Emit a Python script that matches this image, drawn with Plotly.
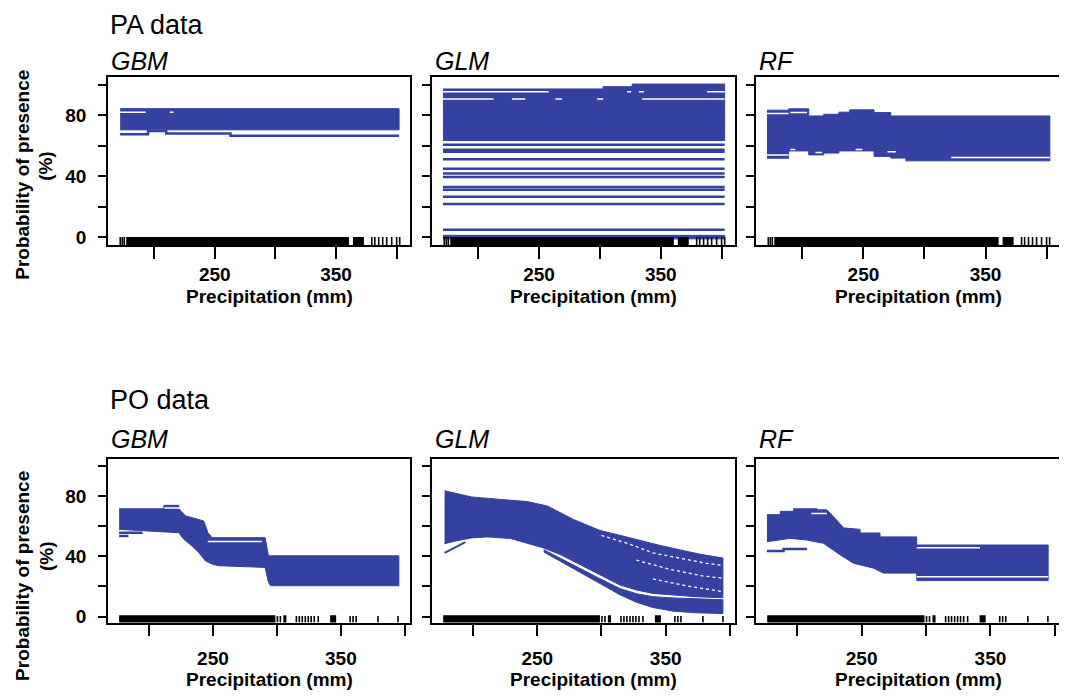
import plotly.graph_objects as go

BLUE = "#3541a0"
FONT = "Liberation Sans, Arial, sans-serif"

# axis ticks
x_tickvals = [200, 250, 300, 350, 400]
x_ticktext = ["", "250", "", "350", ""]
y_tickvals = [0, 20, 40, 60, 80, 100]
y_ticktext = ["0", "", "40", "", "80", ""]

row_titles = ["PA data", "PO data"]
model_names = ["GBM", "GLM", "RF"]

# ---------- PA data ----------
# GBM
pa_gbm_hi_x = [172, 402]
pa_gbm_hi_y = [84.3, 84.3]
pa_gbm_lo_x = [172, 402]
pa_gbm_lo_y = [70.4, 70.4]
pa_gbm_line_x = [172, 195, 195, 210, 210, 263, 263, 402]
pa_gbm_line_y = [67.6, 67.6, 69.6, 69.6, 68.0, 68.0, 66.5, 66.5]
pa_gbm_gap_x0 = [172, 213]
pa_gbm_gap_x1 = [193, 216]
pa_gbm_gap_y = [82.0, 82.0]

# GLM
pa_glm_hi_x = [171, 302.6, 302.6, 326.5, 326.5, 402.5]
pa_glm_hi_y = [97.2, 97.2, 98.7, 98.7, 100.4, 100.4]
pa_glm_lo_x = [171, 402.5]
pa_glm_lo_y = [63.4, 63.4]
pa_glm_levels = [60.6, 57.3, 56.0, 51.2, 45.0, 41.8, 39.6, 33.0, 31.2, 26.6, 21.8, 5.0]
pa_glm_base_hi = [1.3, 1.3]
pa_glm_base_lo = [-1.0, -1.0]
pa_glm_gap_x0 = [171, 322.4, 332, 388.2, 171, 227.7, 263.4, 297.7, 334.7]
pa_glm_gap_x1 = [257.9, 325.7, 336, 402.5, 212.6, 238.7, 268.9, 302.6, 402.5]
pa_glm_gap_y = [95.4, 95.4, 95.4, 95.4, 90.6, 90.6, 90.6, 90.6, 90.6]

# RF
pa_rf_hi_x = [171, 188.7, 188.7, 205.2, 205.2, 217.5, 217.5, 229.9, 229.9, 238.7,
              238.7, 258.7, 258.7, 272.4, 272.4, 402.7]
pa_rf_hi_y = [83.3, 83.3, 84.2, 84.2, 79.5, 79.5, 80.6, 80.6, 82.0, 82.0,
              83.5, 83.5, 81.7, 81.7, 79.5, 79.5]
pa_rf_lo_x = [171, 188.7, 188.7, 205.2, 205.2, 217.5, 217.5, 229.9, 229.9, 258.7,
              258.7, 272.4, 272.4, 284.8, 284.8, 402.7]
pa_rf_lo_y = [51.8, 51.8, 56.6, 56.6, 54.0, 54.0, 55.2, 55.2, 56.6, 56.6,
              53.0, 53.0, 51.9, 51.9, 50.1, 50.1]
pa_rf_gap_x0 = [171, 190.1, 171, 190.1, 210.7, 243.6, 269.7, 321.8]
pa_rf_gap_x1 = [188.7, 203.8, 188.7, 194.2, 216.2, 249.1, 276.5, 402.7]
pa_rf_gap_y = [81.2, 81.7, 54.0, 57.5, 55.6, 57.5, 56.0, 52.3]

# ---------- PO data ----------
# GBM
po_gbm_hi_x = [176.7, 211.7, 211.7, 223.3, 223.3, 228.5, 233.7, 242.8, 246.0, 249.3,
               290.8, 293.4, 395.3]
po_gbm_hi_y = [71.7, 71.7, 74.0, 74.0, 71.7, 67.0, 65.8, 63.6, 56.0, 52.5,
               52.5, 40.4, 40.4]
po_gbm_lo_x = [176.7, 223.3, 227.2, 233.7, 238.9, 244.1, 249.3, 254.5, 290.8, 293.4,
               295.0, 395.3]
po_gbm_lo_y = [58.0, 55.8, 51.4, 47.0, 42.6, 37.1, 34.9, 33.8, 32.7, 22.7,
               20.5, 20.5]
po_gbm_line_x = [176.7, 195, None, 176.7, 184]
po_gbm_line_y = [55.8, 55.8, None, 53.6, 53.6]
po_gbm_gap_x0 = [212, 246]
po_gbm_gap_x1 = [224, 288.2]
po_gbm_gap_y = [72.3, 50.0]

# GLM
po_glm_hi_x = [177.8, 188.2, 198.5, 219.1, 229.3, 242.2, 257.7, 268.0, 278.2, 288.6,
               298.8, 314.3, 329.7, 345.2, 360.6, 376.1, 394.6]
po_glm_hi_y = [83.7, 81.9, 79.6, 78.1, 77.4, 76.5, 73.6, 69.1, 64.6, 60.9,
               57.3, 54.1, 50.6, 47.4, 44.5, 41.6, 38.9]
po_glm_lo_x = [177.8, 185.5, 198.5, 211.4, 229.3, 244.7, 255.0, 268.0, 280.8, 293.7,
               304.0, 314.3, 327.2, 340.1, 355.6, 373.6, 394.6]
po_glm_lo_y = [48.5, 50.1, 52.3, 53.0, 51.9, 48.3, 45.6, 41.2, 35.6, 30.0,
               25.5, 21.0, 17.7, 15.4, 14.3, 13.2, 12.5]
po_glm_tail_x = [255.0, 268.0, 280.8, 293.7, 304.0, 314.3, 327.2, 340.1, 355.6, 373.6, 394.6]
po_glm_tail_hi = [44.5, 38.6, 33.0, 27.4, 23.0, 18.6, 15.2, 13.2, 12.4, 11.8, 11.2]
po_glm_tail_lo = [43.0, 37.0, 31.0, 24.5, 19.5, 14.5, 9.5, 6.0, 3.6, 2.5, 2.0]
po_glm_line_x = [177.8, 185.5, 194.0]
po_glm_line_y = [42.3, 45.6, 49.5]
po_glm_streak_x = [300, 321.6, 340.1, 360.6, 381.3, 394.6, None,
                   327.2, 353.0, 378.8, 394.6, None,
                   340.1, 365.9, 394.6]
po_glm_streak_y = [54.0, 48.3, 42.3, 39.0, 35.5, 34.0, None,
                   37.5, 31.5, 27.0, 25.5, None,
                   25.0, 20.5, 16.5]

# RF
po_rf_hi_x = [176.5, 186.8, 186.8, 197.1, 197.1, 215.3, 215.3, 223.0, 230.8, 235.9,
              248.8, 248.8, 264.3, 264.3, 292.8, 292.8, 394.8]
po_rf_hi_y = [67.8, 67.8, 70.0, 70.0, 71.7, 71.7, 71.0, 71.0, 64.0, 59.0,
              58.0, 55.6, 55.6, 53.0, 53.0, 47.6, 47.6]
po_rf_lo_x = [176.5, 194.6, 207.5, 220.4, 225.6, 233.4, 243.7, 259.2, 266.9, 279.8,
              292.8, 292.8, 394.8]
po_rf_lo_y = [49.8, 52.0, 50.9, 48.7, 45.4, 41.0, 35.5, 32.2, 28.9, 28.9,
              28.9, 23.9, 23.9]
po_rf_line_x = [176.5, 189.4, 189.4, 207.5]
po_rf_line_y = [43.6, 43.6, 45.0, 45.0]
po_rf_gap_x0 = [292.8, 292.8, 211.0]
po_rf_gap_x1 = [341.9, 394.8, 223.0]
po_rf_gap_y = [45.8, 26.5, 68.6]

# ---------- rugs (observed precipitation) ----------
rug_pa_block_start = [177.0, 364.0]
rug_pa_block_end = [360.7, 373.0]
rug_pa_ticks = [172.1, 173.8, 175.4, 379.5, 382.0, 385.2, 388.5, 391.8, 395.9, 400.0, 402.5]
rug_po_block_start = [176.7, 305.0, 341.6]
rug_po_block_end = [298.8, 307.4, 346.3]
rug_po_ticks = [300.4, 302.7, 315.2, 317.5, 319.8, 322.2, 324.5, 326.8, 329.2, 332.3,
                357.2, 359.5, 361.9, 379.0, 394.6]

# layout geometry, in pixels of the 1067x696 page (the page body adds an 8px margin)
W, H = 1067, 696
OFF = 8
col_px = [(108, 410), (432, 735), (756, 1060)]
row_px = [(78, 247), (462, 627)]
x_ranges = [[162, 411], [168, 404]]
y_ranges = [[-5.2, 104.7], [-4.0, 105.0]]
xlabel_standoff = [-1, 6]


def px(p):
    return (p - OFF) / W


def py(p):
    return 1 - (p - OFF) / H


def segs(x0, x1, y):
    xs, ys = [], []
    for a, b, c in zip(x0, x1, y):
        xs += [a, b, None]
        ys += [c, c, None]
    return xs, ys


fig = go.Figure()


def ax(i):
    s = "" if i == 0 else str(i + 1)
    return "x" + s, "y" + s


def add_band(i, hx, hy, lx, ly, color=BLUE):
    xa, ya = ax(i)
    fig.add_trace(go.Scatter(x=list(hx) + list(lx)[::-1], y=list(hy) + list(ly)[::-1],
                             mode="lines", fill="toself", fillcolor=color,
                             line=dict(color=color, width=1),
                             xaxis=xa, yaxis=ya, hoverinfo="skip"))


def add_line(i, x, y, color=BLUE, width=2.5, dash="solid"):
    xa, ya = ax(i)
    fig.add_trace(go.Scatter(x=x, y=y, mode="lines",
                             line=dict(color=color, width=width, dash=dash),
                             xaxis=xa, yaxis=ya, hoverinfo="skip", connectgaps=False))


def add_rug(i, bstart, bend, ticks, ybot):
    xs, ys = segs(bstart, bend, [(ybot + 0.3) / 2] * len(bstart))
    add_line(i, xs, ys, color="black", width=8)
    tx, ty = [], []
    for t in ticks:
        tx += [t, t, None]
        ty += [ybot, 0.3, None]
    add_line(i, tx, ty, color="black", width=1.6)


# PA GBM
add_band(0, pa_gbm_hi_x, pa_gbm_hi_y, pa_gbm_lo_x, pa_gbm_lo_y)
add_line(0, pa_gbm_line_x, pa_gbm_line_y)
add_line(0, *segs(pa_gbm_gap_x0, pa_gbm_gap_x1, pa_gbm_gap_y), color="white", width=1.5)

# PA GLM
add_band(1, pa_glm_hi_x, pa_glm_hi_y, pa_glm_lo_x, pa_glm_lo_y)
lx, ly = segs([pa_glm_lo_x[0]] * len(pa_glm_levels), [pa_glm_lo_x[-1]] * len(pa_glm_levels), pa_glm_levels)
add_line(1, lx, ly)
add_band(1, pa_glm_lo_x, pa_glm_base_hi, pa_glm_lo_x, pa_glm_base_lo)
add_line(1, *segs(pa_glm_gap_x0, pa_glm_gap_x1, pa_glm_gap_y), color="white", width=1.5)

# PA RF
add_band(2, pa_rf_hi_x, pa_rf_hi_y, pa_rf_lo_x, pa_rf_lo_y)
add_line(2, *segs(pa_rf_gap_x0, pa_rf_gap_x1, pa_rf_gap_y), color="white", width=1.5)

# PO GBM
add_band(3, po_gbm_hi_x, po_gbm_hi_y, po_gbm_lo_x, po_gbm_lo_y)
add_line(3, po_gbm_line_x, po_gbm_line_y)
add_line(3, *segs(po_gbm_gap_x0, po_gbm_gap_x1, po_gbm_gap_y), color="white", width=1.5)

# PO GLM
add_band(4, po_glm_hi_x, po_glm_hi_y, po_glm_lo_x, po_glm_lo_y)
add_band(4, po_glm_tail_x, po_glm_tail_hi, po_glm_tail_x, po_glm_tail_lo)
add_line(4, po_glm_line_x, po_glm_line_y, width=2)
add_line(4, po_glm_streak_x, po_glm_streak_y, color="white", width=1.3, dash="dot")

# PO RF
add_band(5, po_rf_hi_x, po_rf_hi_y, po_rf_lo_x, po_rf_lo_y)
add_line(5, po_rf_line_x, po_rf_line_y)
add_line(5, *segs(po_rf_gap_x0, po_rf_gap_x1, po_rf_gap_y), color="white", width=1.5)

# rugs
for i in range(3):
    add_rug(i, rug_pa_block_start, rug_pa_block_end, rug_pa_ticks, y_ranges[0][0])
    add_rug(i + 3, rug_po_block_start, rug_po_block_end, rug_po_ticks, y_ranges[1][0])

bold = dict(family=FONT, size=19, color="black", weight="bold")
layout = dict(width=W, height=H, autosize=False, showlegend=False,
              margin=dict(l=0, r=0, t=0, b=0),
              paper_bgcolor="white", plot_bgcolor="white")

for i in range(6):
    r, c = divmod(i, 3)
    s = "" if i == 0 else str(i + 1)
    x0, x1 = col_px[c]
    y0, y1 = row_px[r]
    layout["xaxis" + s] = dict(
        domain=[px(x0), px(x1)], range=x_ranges[r], anchor="y" + s,
        showline=True, mirror=True, linecolor="black", linewidth=1.5,
        ticks="outside", ticklen=12, tickwidth=1.5, tickcolor="black",
        tickvals=x_tickvals, ticktext=x_ticktext, tickfont=bold,
        ticklabelstandoff=xlabel_standoff[r], showgrid=False, zeroline=False, fixedrange=True)
    layout["yaxis" + s] = dict(
        domain=[py(y1), py(y0)], range=y_ranges[r], anchor="x" + s,
        showline=True, mirror=True, linecolor="black", linewidth=1.5,
        ticks="outside", ticklen=8, tickwidth=1.5, tickcolor="black",
        tickvals=y_tickvals, ticktext=y_ticktext, tickfont=bold,
        showticklabels=(c == 0), ticklabelstandoff=8,
        showgrid=False, zeroline=False, fixedrange=True)

annotations = []
for r, title in enumerate(row_titles):
    ty = [25, 403][r]
    annotations.append(dict(text=title, x=px(108), y=py(ty), xref="paper", yref="paper",
                            xanchor="left", yanchor="middle", showarrow=False,
                            font=dict(family=FONT, size=27, color="black")))
    my = [61, 442][r]
    for c, name in enumerate(model_names):
        annotations.append(dict(text="<i>" + name + "</i>", x=px(col_px[c][0] + 1), y=py(my),
                                xref="paper", yref="paper", xanchor="left", yanchor="middle",
                                showarrow=False, font=dict(family=FONT, size=25, color="black")))
        annotations.append(dict(text="Precipitation (mm)",
                                x=px((col_px[c][0] + col_px[c][1]) / 2 + 10),
                                y=py([299, 684][r]), xref="paper", yref="paper",
                                xanchor="center", yanchor="middle", showarrow=False, font=bold))
    annotations.append(dict(text="Probability of presence", textangle=-90,
                            x=px(23), y=py([176, 580][r]), xref="paper", yref="paper",
                            xanchor="center", yanchor="middle", showarrow=False, font=bold))
    annotations.append(dict(text="(%)", textangle=-90,
                            x=px(46), y=py([167, 560][r]), xref="paper", yref="paper",
                            xanchor="center", yanchor="middle", showarrow=False, font=bold))

layout["annotations"] = annotations
fig.update_layout(**layout)
fig.write_html("out.html")
